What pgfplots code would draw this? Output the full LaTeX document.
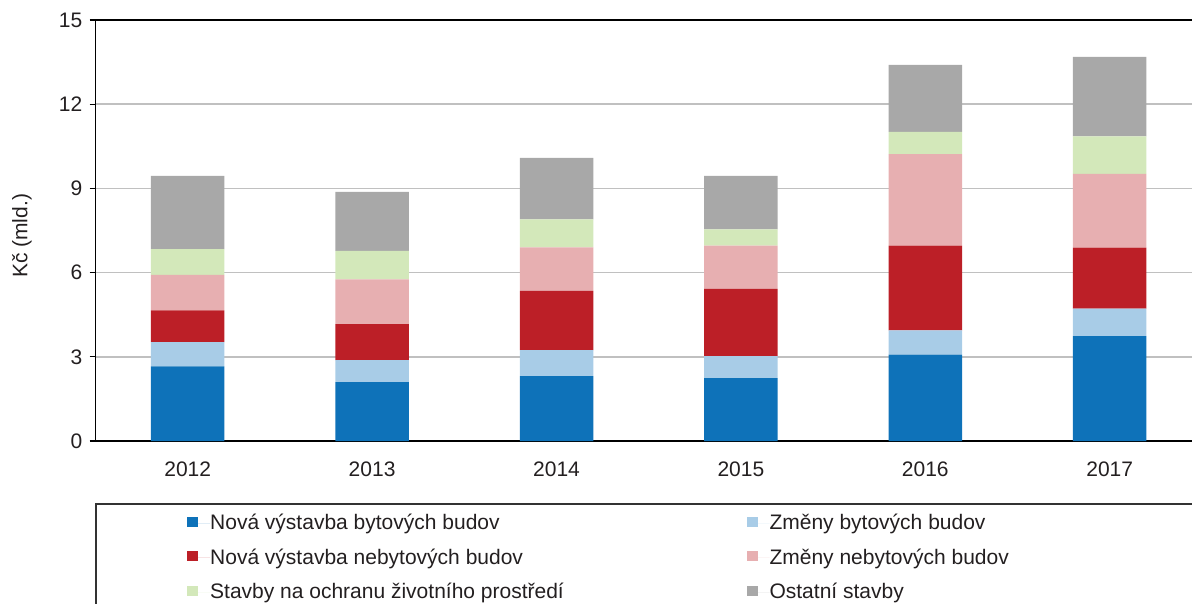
\documentclass[border=0pt]{standalone}
\usepackage{fontspec}
\setmainfont{Liberation Sans}
\usepackage{pgfplots}
\pgfplotsset{compat=1.18}
\usepackage{pgfplotstable}
\definecolor{cBlue}{RGB}{14,114,185}
\definecolor{cLBlue}{RGB}{168,204,231}
\definecolor{cRed}{RGB}{188,31,39}
\definecolor{cPink}{RGB}{231,175,177}
\definecolor{cGreen}{RGB}{211,232,186}
\definecolor{cGray}{RGB}{168,168,168}
\definecolor{cText}{RGB}{35,31,32}
\pgfplotstableread{
x  nb    zb    nn    zn    oz    os
0  2.66  0.86  1.13  1.27  0.92  2.61
1  2.10  0.78  1.28  1.60  1.01  2.11
2  2.31  0.93  2.11  1.55  1.00  2.19
3  2.24  0.78  2.40  1.54  0.58  1.91
4  3.08  0.86  3.02  3.26  0.79  2.39
5  3.74  0.98  2.17  2.63  1.33  2.84
}\data
\newcommand{\st}{\rule[-6pt]{0pt}{22pt}}
\newcommand{\La}[1]{\makebox[536.7pt][l]{\st #1}}
\newcommand{\Lb}[1]{\st #1}
\begin{document}
\fontsize{21}{25}\selectfont
\begin{tikzpicture}
\useasboundingbox (0pt,0pt) rectangle (1192pt,603pt);
\begin{axis}[
  at={(95.5pt,162pt)}, anchor=south west,
  scale only axis, width=1099pt, height=421pt,
  xmin=-0.5, xmax=5.46, ymin=0, ymax=15,
  ybar stacked, bar width=73.5pt,
  xtick={0,1,2,3,4,5},
  xticklabels={2012,2013,2014,2015,2016,2017},
  extra x ticks={0.5,1.5,2.5,3.5,4.5},
  extra x tick labels={},
  extra x tick style={major tick length=6pt, grid=none},
  xtick style={draw=none},
  ytick={0,3,6,9,12,15},
  xtick pos=bottom, ytick pos=left,
  tick align=outside,
  major tick length=6pt,
  every tick/.style={black, line width=1.2pt},
  ymajorgrids,
  grid style={color={rgb,255:red,192;green,192;blue,192}, line width=1.5pt},
  axis line style={black, line width=1.8pt},
  /pgf/number format/assume math mode=true,
  ticklabel style={font=\fontsize{21}{25}\selectfont, text=cText},
  xticklabel style={yshift=-8pt},
  ylabel={Kč (mld.)},
  ylabel style={at={(axis description cs:-0.0669,0.487)}, anchor=center, font=\fontsize{21}{25}\selectfont, text=cText},
  legend columns=2,
  legend style={at={(axis description cs:0.0835,-0.1723)}, anchor=north west,
    draw=none, fill=none, inner sep=0pt, column sep=0pt, row sep=15.3pt,
    nodes={inner sep=0pt}, font=\fontsize{21}{25}\selectfont, text=cText},
  legend cell align=left,
  sq/.style={legend image code/.code={\fill[##1] (0pt,-3.5pt) rectangle (11pt,6.5pt); \path (0pt,0pt) -- (22.7pt,0pt);}},
]
\addplot[fill=cBlue, draw=none, sq] table[x=x,y=nb]{\data};
\addlegendentry{\La{Nová výstavba bytových budov}}
\addplot[fill=cLBlue, draw=none, sq] table[x=x,y=zb]{\data};
\addlegendentry{\Lb{Změny bytových budov}}
\addplot[fill=cRed, draw=none, sq] table[x=x,y=nn]{\data};
\addlegendentry{\La{Nová výstavba nebytových budov}}
\addplot[fill=cPink, draw=none, sq] table[x=x,y=zn]{\data};
\addlegendentry{\Lb{Změny nebytových budov}}
\addplot[fill=cGreen, draw=none, sq] table[x=x,y=oz]{\data};
\addlegendentry{\La{Stavby na ochranu životního prostředí}}
\addplot[fill=cGray, draw=none, sq] table[x=x,y=os]{\data};
\addlegendentry{\Lb{Ostatní stavby}}
\end{axis}
\draw[line width=2pt, black!80] (95.5pt,-10pt) -- (95.5pt,99pt) -- (1200pt,99pt);
\end{tikzpicture}
\end{document}
